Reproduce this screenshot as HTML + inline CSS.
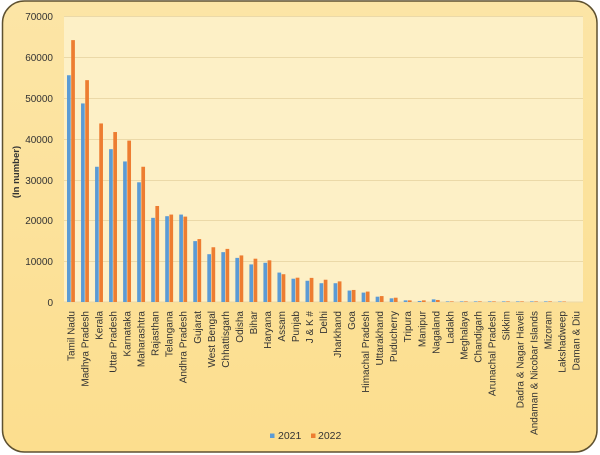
<!DOCTYPE html>
<html><head><meta charset="utf-8"><style>
html,body{margin:0;padding:0;background:#fff;}
svg{display:block;font-family:"Liberation Sans",Arial,sans-serif;}
</style></head><body>
<svg width="600" height="455" viewBox="0 0 600 455" xmlns="http://www.w3.org/2000/svg">
<defs>
<linearGradient id="bg" x1="0" y1="0" x2="0" y2="1">
<stop offset="0" stop-color="#FCE5A6"/>
<stop offset="1" stop-color="#FCDE8E"/>
</linearGradient>
</defs>
<rect x="2.5" y="1" width="594.5" height="451" rx="22" ry="22" fill="url(#bg)" stroke="#5E5130" stroke-width="1.5"/>
<rect x="64" y="16" width="519" height="286" fill="#FDF0C6"/>
<g stroke="#EBD9A8" stroke-width="1">
<line x1="64" x2="583" y1="16.5" y2="16.5"/>
<line x1="64" x2="583" y1="57.5" y2="57.5"/>
<line x1="64" x2="583" y1="98.5" y2="98.5"/>
<line x1="64" x2="583" y1="139.5" y2="139.5"/>
<line x1="64" x2="583" y1="180.5" y2="180.5"/>
<line x1="64" x2="583" y1="220.5" y2="220.5"/>
<line x1="64" x2="583" y1="261.5" y2="261.5"/>
<line x1="64" x2="583" y1="302" y2="302"/>
</g>
<g font-size="10" fill="#333" text-anchor="end">
<text x="53" y="20">70000</text>
<text x="53" y="61">60000</text>
<text x="53" y="102">50000</text>
<text x="53" y="143">40000</text>
<text x="53" y="184">30000</text>
<text x="53" y="224">20000</text>
<text x="53" y="265">10000</text>
<text x="53" y="306">0</text>
</g>
<text transform="translate(19,172) rotate(-90)" font-size="9.5" font-weight="bold" fill="#333" text-anchor="middle">(In number)</text>
<g transform="translate(0,302) scale(1,-1)">
<g fill="#5B9BD5">
<rect x="67.0" y="0" width="3.7" height="226.76"/>
<rect x="81.03" y="0" width="3.7" height="198.57"/>
<rect x="95.06" y="0" width="3.7" height="135.24"/>
<rect x="109.09" y="0" width="3.7" height="152.81"/>
<rect x="123.12" y="0" width="3.7" height="140.55"/>
<rect x="137.15" y="0" width="3.7" height="119.71"/>
<rect x="151.18" y="0" width="3.7" height="84.17"/>
<rect x="165.21" y="0" width="3.7" height="85.80"/>
<rect x="179.24" y="0" width="3.7" height="87.43"/>
<rect x="193.27" y="0" width="3.7" height="60.88"/>
<rect x="207.30" y="0" width="3.7" height="47.80"/>
<rect x="221.33" y="0" width="3.7" height="49.85"/>
<rect x="235.36" y="0" width="3.7" height="44.13"/>
<rect x="249.39" y="0" width="3.7" height="37.59"/>
<rect x="263.42" y="0" width="3.7" height="39.22"/>
<rect x="277.45" y="0" width="3.7" height="29.42"/>
<rect x="291.48" y="0" width="3.7" height="23.29"/>
<rect x="305.51" y="0" width="3.7" height="21.25"/>
<rect x="319.54" y="0" width="3.7" height="18.79"/>
<rect x="333.57" y="0" width="3.7" height="18.79"/>
<rect x="347.60" y="0" width="3.7" height="11.44"/>
<rect x="361.63" y="0" width="3.7" height="9.40"/>
<rect x="375.66" y="0" width="3.7" height="5.31"/>
<rect x="389.69" y="0" width="3.7" height="3.68"/>
<rect x="403.72" y="0" width="3.7" height="1.63"/>
<rect x="417.75" y="0" width="3.7" height="1.02"/>
<rect x="431.78" y="0" width="3.7" height="2.66"/>
<rect x="445.81" y="0" width="3.7" height="0.61"/>
<rect x="459.84" y="0" width="3.7" height="0.61"/>
<rect x="473.87" y="0" width="3.7" height="0.61"/>
<rect x="487.90" y="0" width="3.7" height="0.61"/>
<rect x="501.93" y="0" width="3.7" height="0.61"/>
<rect x="515.96" y="0" width="3.7" height="0.61"/>
<rect x="529.99" y="0" width="3.7" height="0.61"/>
<rect x="544.02" y="0" width="3.7" height="0.61"/>
<rect x="558.05" y="0" width="3.7" height="0.5"/>
</g>
<g fill="#ED7D31">
<rect x="71.2" y="0" width="3.7" height="261.89"/>
<rect x="85.23" y="0" width="3.7" height="221.85"/>
<rect x="99.26" y="0" width="3.7" height="178.55"/>
<rect x="113.29" y="0" width="3.7" height="169.97"/>
<rect x="127.32" y="0" width="3.7" height="161.39"/>
<rect x="141.35" y="0" width="3.7" height="135.24"/>
<rect x="155.38" y="0" width="3.7" height="96.01"/>
<rect x="169.41" y="0" width="3.7" height="87.43"/>
<rect x="183.44" y="0" width="3.7" height="85.39"/>
<rect x="197.47" y="0" width="3.7" height="62.92"/>
<rect x="211.50" y="0" width="3.7" height="54.75"/>
<rect x="225.53" y="0" width="3.7" height="53.11"/>
<rect x="239.56" y="0" width="3.7" height="46.58"/>
<rect x="253.59" y="0" width="3.7" height="43.31"/>
<rect x="267.62" y="0" width="3.7" height="41.67"/>
<rect x="281.65" y="0" width="3.7" height="27.78"/>
<rect x="295.68" y="0" width="3.7" height="24.31"/>
<rect x="309.71" y="0" width="3.7" height="24.11"/>
<rect x="323.74" y="0" width="3.7" height="22.27"/>
<rect x="337.77" y="0" width="3.7" height="20.63"/>
<rect x="351.80" y="0" width="3.7" height="12.05"/>
<rect x="365.83" y="0" width="3.7" height="10.42"/>
<rect x="379.86" y="0" width="3.7" height="5.92"/>
<rect x="393.89" y="0" width="3.7" height="4.29"/>
<rect x="407.92" y="0" width="3.7" height="1.63"/>
<rect x="421.95" y="0" width="3.7" height="1.63"/>
<rect x="435.98" y="0" width="3.7" height="2.04"/>
<rect x="450.01" y="0" width="3.7" height="0.61"/>
<rect x="464.04" y="0" width="3.7" height="0.61"/>
<rect x="478.07" y="0" width="3.7" height="0.61"/>
<rect x="492.10" y="0" width="3.7" height="0.61"/>
<rect x="506.13" y="0" width="3.7" height="0.61"/>
<rect x="520.16" y="0" width="3.7" height="0.61"/>
<rect x="534.19" y="0" width="3.7" height="0.61"/>
<rect x="548.22" y="0" width="3.7" height="0.61"/>
<rect x="562.25" y="0" width="3.7" height="0.5"/>
</g>
</g>
<g font-size="10" fill="#333" text-anchor="end">
<text transform="translate(74.5,311) rotate(-90)">Tamil Nadu</text>
<text transform="translate(88.53,311) rotate(-90)">Madhya Pradesh</text>
<text transform="translate(102.56,311) rotate(-90)">Kerala</text>
<text transform="translate(116.59,311) rotate(-90)">Uttar Pradesh</text>
<text transform="translate(130.62,311) rotate(-90)">Karnataka</text>
<text transform="translate(144.65,311) rotate(-90)">Maharashtra</text>
<text transform="translate(158.68,311) rotate(-90)">Rajasthan</text>
<text transform="translate(172.71,311) rotate(-90)">Telangana</text>
<text transform="translate(186.74,311) rotate(-90)">Andhra Pradesh</text>
<text transform="translate(200.77,311) rotate(-90)">Gujarat</text>
<text transform="translate(214.8,311) rotate(-90)">West Bengal</text>
<text transform="translate(228.83,311) rotate(-90)">Chhattisgarh</text>
<text transform="translate(242.86,311) rotate(-90)">Odisha</text>
<text transform="translate(256.89,311) rotate(-90)">Bihar</text>
<text transform="translate(270.92,311) rotate(-90)">Haryana</text>
<text transform="translate(284.95,311) rotate(-90)">Assam</text>
<text transform="translate(298.98,311) rotate(-90)">Punjab</text>
<text transform="translate(313.01,311) rotate(-90)">J &amp; K  #</text>
<text transform="translate(327.04,311) rotate(-90)">Delhi</text>
<text transform="translate(341.07,311) rotate(-90)">Jharkhand</text>
<text transform="translate(355.1,311) rotate(-90)">Goa</text>
<text transform="translate(369.13,311) rotate(-90)">Himachal Pradesh</text>
<text transform="translate(383.16,311) rotate(-90)">Uttarakhand</text>
<text transform="translate(397.19,311) rotate(-90)">Puducherry</text>
<text transform="translate(411.22,311) rotate(-90)">Tripura</text>
<text transform="translate(425.25,311) rotate(-90)">Manipur</text>
<text transform="translate(439.28,311) rotate(-90)">Nagaland</text>
<text transform="translate(453.31,311) rotate(-90)">Ladakh</text>
<text transform="translate(467.34,311) rotate(-90)">Meghalaya</text>
<text transform="translate(481.37,311) rotate(-90)">Chandigarh</text>
<text transform="translate(495.4,311) rotate(-90)">Arunachal Pradesh</text>
<text transform="translate(509.43,311) rotate(-90)">Sikkim</text>
<text transform="translate(523.46,311) rotate(-90)">Dadra &amp; Nagar Haveli</text>
<text transform="translate(537.49,311) rotate(-90)">Andaman &amp; Nicobar Islands</text>
<text transform="translate(551.52,311) rotate(-90)">Mizoram</text>
<text transform="translate(565.55,311) rotate(-90)">Lakshadweep</text>
<text transform="translate(579.58,311) rotate(-90)">Daman &amp; Diu</text>
</g>
<rect x="270" y="433.5" width="4.5" height="4.5" fill="#5B9BD5"/>
<text x="278" y="439" font-size="10.5" fill="#333">2021</text>
<rect x="311" y="433.5" width="4.5" height="4.5" fill="#ED7D31"/>
<text x="318" y="439" font-size="10.5" fill="#333">2022</text>
</svg>
</body></html>
